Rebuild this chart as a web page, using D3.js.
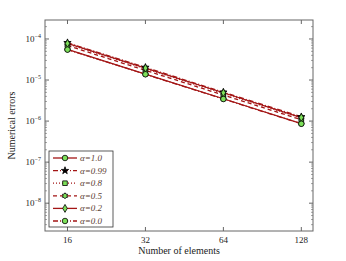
<!DOCTYPE html>
<html>
<head>
<meta charset="utf-8">
<script src="https://cdn.jsdelivr.net/npm/d3@7"></script>
<style>
body { margin: 0; background: #fff; }
text { font-family: "Liberation Serif", "DejaVu Serif", serif; }
</style>
</head>
<body>
<div id="chart"></div>
<script>
// data
var elements = [16, 32, 64, 128];
var labels = ["α=1.0", "α=0.99", "α=0.8", "α=0.5", "α=0.2", "α=0.0"];
var err_a10 = [5.6e-5, 1.40e-5, 3.5e-6, 8.7e-7];
var err_a099 = [8.1e-5, 2.03e-5, 5.05e-6, 1.27e-6];
var err_a08 = [7.6e-5, 1.90e-5, 4.75e-6, 1.19e-6];
var err_a05 = [6.9e-5, 1.72e-5, 4.3e-6, 1.08e-6];
var err_a02 = [7.8e-5, 1.95e-5, 4.9e-6, 1.22e-6];
var err_a00 = [5.5e-5, 1.38e-5, 3.45e-6, 8.6e-7];
var series = [err_a10, err_a099, err_a08, err_a05, err_a02, err_a00];
var dashes = [null, "5,2,1,2", "1,2", "4,3", null, "5,2,1,2"];
var markers = ["circle", "star", "square", "hex", "diamond", "circle"];
var markerFill = ["#7de05a", "#000", "#7de05a", "#7de05a", "#7de05a", "#7de05a"];
var yTickExp = [-8, -7, -6, -5, -4];

var width = 346, height = 261;
var margin = {left: 45, right: 33, top: 20, bottom: 30};
var line_color = '#a31515';

var svg = d3.select('#chart').append('svg')
  .attr('width', width)
  .attr('height', height);

var x = d3.scaleLog().base(2)
  .domain([13.1, 142])
  .range([margin.left, width - margin.right]);
var y = d3.scaleLog()
  .domain([2.1e-9, 2.9e-4])
  .range([height - margin.bottom, margin.top]);

var x0 = margin.left, x1 = width - margin.right;
var y0 = height - margin.bottom, y1 = margin.top;

// frame
svg.append('rect')
  .attr('x', x0).attr('y', y1)
  .attr('width', x1 - x0).attr('height', y0 - y1)
  .attr('fill', 'none')
  .attr('stroke', '#666')
  .attr('stroke-width', 1);

// x ticks (bottom and top, inward)
elements.forEach(function (e) {
  svg.append('line').attr('x1', x(e)).attr('x2', x(e))
    .attr('y1', y0).attr('y2', y0 - 4).attr('stroke', '#666');
  svg.append('line').attr('x1', x(e)).attr('x2', x(e))
    .attr('y1', y1).attr('y2', y1 + 4).attr('stroke', '#666');
  svg.append('text')
    .attr('x', x(e)).attr('y', y0 + 12)
    .attr('text-anchor', 'middle')
    .attr('font-size', 9)
    .attr('fill', '#222')
    .text(e);
});

// y ticks, major + minor, both sides
var minor = [];
for (var p = -9; p <= -4; p++) {
  for (var k = 2; k <= 9; k++) {
    var v = k * Math.pow(10, p);
    if (v > y.domain()[0] && v < y.domain()[1]) minor.push(v);
  }
}
minor.forEach(function (v) {
  svg.append('line').attr('x1', x0).attr('x2', x0 + 2)
    .attr('y1', y(v)).attr('y2', y(v)).attr('stroke', '#666').attr('stroke-width', 0.6);
  svg.append('line').attr('x1', x1).attr('x2', x1 - 2)
    .attr('y1', y(v)).attr('y2', y(v)).attr('stroke', '#666').attr('stroke-width', 0.6);
});
yTickExp.forEach(function (p) {
  var v = Math.pow(10, p);
  svg.append('line').attr('x1', x0).attr('x2', x0 + 4)
    .attr('y1', y(v)).attr('y2', y(v)).attr('stroke', '#666');
  svg.append('line').attr('x1', x1).attr('x2', x1 - 4)
    .attr('y1', y(v)).attr('y2', y(v)).attr('stroke', '#666');
  var t = svg.append('text')
    .attr('x', x0 - 4).attr('y', y(v) + 3)
    .attr('text-anchor', 'end')
    .attr('font-size', 9)
    .attr('fill', '#222');
  t.append('tspan').text('10');
  t.append('tspan').attr('dy', -4).attr('font-size', 6).text('\u2212' + (-p));
});

// axis labels
svg.append('text')
  .attr('x', (x0 + x1) / 2).attr('y', y0 + 23)
  .attr('text-anchor', 'middle')
  .attr('font-size', 10)
  .attr('fill', '#222')
  .text('Number of elements');
svg.append('text')
  .attr('transform', 'translate(15,' + ((y0 + y1) / 2) + ') rotate(-90)')
  .attr('text-anchor', 'middle')
  .attr('font-size', 10)
  .attr('fill', '#222')
  .text('Numerical errors');

function markerPath(kind, s) {
  var sym;
  if (kind === 'circle') sym = d3.symbol(d3.symbolCircle, s * s * 0.8);
  else if (kind === 'star') sym = d3.symbol(d3.symbolStar, s * s * 0.55);
  else if (kind === 'square') sym = d3.symbol(d3.symbolSquare, s * s * 0.7);
  else if (kind === 'diamond') sym = d3.symbol(d3.symbolDiamond, s * s * 0.6);
  else {
    // six-point star
    var pts = [];
    for (var i = 0; i < 12; i++) {
      var r = (i % 2 === 0) ? s * 0.55 : s * 0.35;
      var a = Math.PI / 6 * i - Math.PI / 2;
      pts.push([r * Math.cos(a), r * Math.sin(a)]);
    }
    return 'M' + pts.join('L') + 'Z';
  }
  return sym();
}

var line = d3.line()
  .x(function (d, i) { return x(elements[i]); })
  .y(function (d) { return y(d); });

var plot = svg.append('g');
series.forEach(function (s, si) {
  plot.append('path')
    .attr('d', line(s))
    .attr('fill', 'none')
    .attr('stroke', line_color)
    .attr('stroke-width', 1.3)
    .attr('stroke-dasharray', dashes[si]);
});
series.forEach(function (s, si) {
  plot.selectAll('.m' + si)
    .data(s)
    .enter()
    .append('path')
    .attr('transform', function (d, i) { return 'translate(' + x(elements[i]) + ',' + y(d) + ')'; })
    .attr('d', markerPath(markers[si], 5.5))
    .attr('fill', markerFill[si])
    .attr('stroke', '#000')
    .attr('stroke-width', 0.8);
});

// legend
var lx = 49, ly = 151, lw = 64, lh = 76, row = 12.6;
svg.append('rect')
  .attr('x', lx).attr('y', ly).attr('width', lw).attr('height', lh)
  .attr('fill', '#fff').attr('stroke', '#333').attr('stroke-width', 0.8);
labels.forEach(function (lab, i) {
  var cy = ly + 7 + i * row;
  svg.append('line')
    .attr('x1', lx + 4).attr('x2', lx + 28)
    .attr('y1', cy).attr('y2', cy)
    .attr('stroke', line_color)
    .attr('stroke-width', 1.3)
    .attr('stroke-dasharray', dashes[i]);
  svg.append('path')
    .attr('transform', 'translate(' + (lx + 16) + ',' + cy + ')')
    .attr('d', markerPath(markers[i], 5.5))
    .attr('fill', markerFill[i])
    .attr('stroke', '#000')
    .attr('stroke-width', 0.8);
  svg.append('text')
    .attr('x', lx + 31).attr('y', cy + 3)
    .attr('font-size', 9)
    .attr('font-style', 'italic')
    .attr('fill', '#5c4033')
    .text(lab);
});
</script>
</body>
</html>
